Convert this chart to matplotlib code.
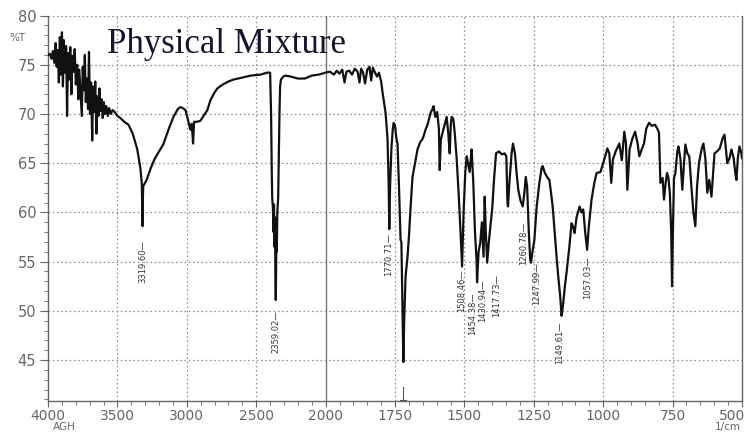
import numpy as np
import matplotlib
matplotlib.use('Agg')
import matplotlib.pyplot as plt
from matplotlib.ticker import FixedLocator

# FTIR spectrum of the physical mixture
wavenumber = [
    4000, 3985, 3975, 3965, 3955, 3945, 3938, 3930, 3922, 3915, 3908, 3900, 3893, 3886,
    3878, 3870, 3863, 3856, 3848, 3840, 3832, 3824, 3816, 3808, 3800, 3790, 3782, 3775,
    3765, 3757, 3750, 3742, 3735, 3728, 3720, 3712, 3705, 3698, 3690, 3682, 3675, 3668,
    3660, 3652, 3645, 3637, 3630, 3622, 3614, 3606, 3598, 3590, 3580, 3570, 3560, 3548,
    3535, 3520, 3500, 3480, 3450, 3420, 3390, 3357, 3335, 3325, 3321, 3319.6, 3317, 3314,
    3305, 3290, 3260, 3230, 3200, 3170, 3130, 3097, 3065, 3047, 3030, 3010, 2990, 2975,
    2965, 2955, 2948, 2930, 2903, 2880, 2852, 2830, 2800, 2780, 2740, 2700, 2664, 2600,
    2540, 2470, 2420, 2400, 2393, 2388, 2385, 2380, 2376, 2372, 2368, 2365, 2362, 2359,
    2357, 2355, 2352, 2348, 2342, 2337, 2332, 2328, 2322, 2305, 2290, 2250, 2200, 2150,
    2100, 2050, 2000, 1985, 1970, 1960, 1950, 1940, 1932, 1925, 1915, 1905, 1895, 1885,
    1878, 1872, 1865, 1858, 1850, 1842, 1836, 1830, 1822, 1815, 1808, 1800, 1795, 1784,
    1777, 1773, 1770.7, 1768, 1763, 1758, 1755, 1750, 1745, 1741, 1735, 1730, 1727, 1723,
    1720, 1717, 1712, 1705, 1700, 1694, 1687, 1678, 1669, 1660, 1650, 1640, 1632, 1622,
    1615, 1611, 1605, 1598, 1592, 1589, 1585, 1575, 1564, 1558, 1553, 1549, 1546, 1540,
    1535, 1528, 1521, 1514, 1508.5, 1503, 1497, 1492, 1486, 1481, 1477, 1474, 1468, 1462,
    1456, 1454.4, 1449, 1443, 1437, 1431, 1427, 1423, 1418, 1412, 1405, 1400, 1393, 1386,
    1376, 1365, 1355, 1349, 1345, 1343, 1338, 1330, 1325, 1318, 1312, 1306, 1298, 1290,
    1284, 1279, 1274, 1268, 1263, 1260, 1255, 1248, 1240, 1230, 1222, 1218, 1210, 1200,
    1194, 1188, 1182, 1175, 1168, 1162, 1155, 1150, 1145, 1138, 1132, 1122, 1114, 1108,
    1103, 1096, 1085, 1078, 1072, 1065, 1058, 1052, 1042, 1032, 1024, 1010, 1000, 985,
    978, 971, 965, 955, 942, 933, 924, 918, 913, 905, 895, 885, 876, 870,
    860, 853, 845, 835, 825, 813, 805, 799, 794, 786, 781, 775, 770, 765,
    760, 755, 752, 749, 745, 740, 733, 729, 722, 715, 710, 704, 697, 690,
    682, 675, 668, 662, 655, 645, 639, 632, 625, 618, 610, 604, 599, 590,
    580, 570, 563, 558, 553, 545, 538, 530, 524, 520, 515, 509, 502, 500,
]
transmittance = [
    76.0, 76.1, 75.6, 76.4, 75.2, 77.2, 74.8, 76.5, 73.2, 77.8, 74.0, 78.3, 72.8, 77.5,
    74.2, 76.9, 69.8, 76.2, 73.5, 76.8, 72.0, 75.9, 74.3, 76.6, 73.0, 75.0, 71.5, 74.5,
    72.0, 69.8, 74.8, 72.4, 76.0, 71.2, 73.6, 70.5, 76.3, 70.0, 73.2, 67.3, 72.8, 70.2,
    73.3, 68.0, 71.8, 69.8, 72.6, 70.3, 71.5, 69.6, 71.2, 70.0, 70.8, 69.8, 70.6, 70.0,
    70.4, 70.2, 69.8, 69.6, 69.2, 68.9, 68.0, 66.4, 64.5, 63.0, 60.5, 58.6, 61.5, 62.7,
    62.9, 63.3, 64.5, 65.5, 66.2, 66.9, 68.5, 69.7, 70.5, 70.7, 70.6, 70.4, 69.3, 68.4,
    69.0, 67.0, 69.2, 69.2, 69.3, 69.8, 70.4, 71.4, 72.2, 72.6, 73.0, 73.3, 73.5, 73.7,
    73.9, 74.0, 74.2, 74.2, 70.0, 64.0, 61.5, 60.5, 58.0, 60.8, 56.5, 59.5, 54.0, 51.1,
    55.0, 57.5, 56.0, 60.0, 61.5, 66.0, 70.5, 72.8, 73.5, 73.8, 73.9, 73.8, 73.6, 73.6,
    73.9, 74.0, 74.2, 74.3, 74.0, 74.4, 74.1, 74.5, 73.2, 74.3, 74.4, 74.0, 74.6, 74.3,
    73.2, 74.6, 74.2, 73.1, 74.5, 74.8, 73.4, 74.7, 74.2, 73.8, 74.2, 73.3, 72.2, 70.1,
    67.5, 63.0, 58.3, 62.5, 66.5, 68.5, 69.1, 68.8, 67.5, 67.0, 62.0, 57.2, 57.0, 50.0,
    44.8, 49.0, 53.5, 55.5, 57.5, 60.5, 63.6, 65.0, 66.4, 67.1, 67.5, 68.4, 69.0, 70.1,
    70.5, 70.8, 69.7, 70.2, 68.5, 64.3, 67.4, 68.5, 69.7, 68.0, 66.0, 69.0, 69.7, 69.5,
    68.1, 65.5, 62.0, 58.0, 54.5, 60.0, 64.0, 65.7, 64.8, 64.1, 65.5, 66.4, 63.0, 58.0,
    55.0, 52.9, 56.0, 56.9, 59.0, 55.5, 61.6, 58.0, 54.9, 57.0, 59.0, 60.3, 63.5, 66.0,
    66.2, 65.9, 66.0, 65.7, 61.0, 60.6, 63.0, 66.0, 67.0, 66.0, 64.0, 62.3, 61.2, 60.6,
    62.0, 63.6, 62.6, 58.0, 55.2, 54.9, 56.0, 57.2, 60.5, 63.0, 64.5, 64.7, 64.0, 63.5,
    63.3, 62.0, 60.6, 58.0, 55.5, 53.5, 51.5, 49.5, 50.5, 52.5, 53.9, 56.5, 58.9, 58.5,
    57.9, 59.5, 60.6, 60.0, 60.3, 58.0, 56.2, 58.5, 61.3, 63.0, 64.0, 64.1, 65.0, 66.5,
    66.0, 63.0, 65.4, 66.2, 67.0, 65.3, 68.2, 67.0, 62.3, 66.4, 67.5, 68.2, 67.0, 65.7,
    66.5, 67.0, 68.5, 69.1, 68.8, 68.9, 68.5, 68.1, 63.0, 63.5, 61.3, 63.0, 64.0, 63.5,
    62.0, 58.0, 52.5, 58.0, 63.5, 64.0, 66.2, 66.7, 65.5, 62.3, 64.5, 66.9, 66.0, 65.7,
    62.5, 60.0, 58.6, 62.6, 65.0, 66.5, 67.0, 65.5, 62.0, 63.3, 61.6, 64.0, 66.0, 66.2,
    66.5, 67.5, 67.9, 66.5, 65.0, 65.5, 66.4, 65.5, 64.0, 63.3, 65.5, 66.7, 66.0, 65.5,
]

# peak annotations
peak_labels = ['3319.60', '2359.02', '1770.71', '1508.46', '1454.38', '1430.94',
               '1417.73', '1260.78', '1247.99', '1149.61', '1057.03']
peak_label_x = [3321, 2361, 1773, 1510, 1470, 1435, 1385, 1287, 1240, 1158, 1057]
peak_label_top = [57.2, 50.0, 57.9, 54.2, 51.9, 53.2, 53.7, 59.0, 54.9, 48.9, 55.5]

x_major = [4000, 3500, 3000, 2500, 2000, 1750, 1500, 1250, 1000, 750, 500]
y_major = [45, 50, 55, 60, 65, 70, 75, 80]


# wavenumber axis is compressed by 2x above 2000 1/cm
def fwd(w):
    w = np.asarray(w, dtype=float)
    return np.where(w <= 2000, w, 2000 + (w - 2000) / 2)


def inv(x):
    x = np.asarray(x, dtype=float)
    return np.where(x <= 2000, x, 2000 + (x - 2000) * 2)


fig = plt.figure(figsize=(7.51, 4.32), dpi=100)
ax = fig.add_axes([0.064, 0.072, 0.924, 0.892])
ax.set_xscale('function', functions=(fwd, inv))
ax.set_xlim(4000, 500)
ax.set_ylim(40.85, 80)

grid_col = '#8a8a8a'
for xv in x_major[1:-1]:
    if xv == 2000:
        ax.axvline(xv, color='#777777', lw=1.0, zorder=1)
    else:
        ax.axvline(xv, color=grid_col, lw=0.9, ls=(0, (1.2, 2.2)), zorder=1)
for yv in y_major:
    ax.axhline(yv, color=grid_col, lw=0.9, ls=(0, (1.2, 2.2)), zorder=1)

ax.plot(wavenumber, transmittance, color='#111111', lw=1.6, zorder=3)

for lab, lx, ly in zip(peak_labels, peak_label_x, peak_label_top):
    ax.text(lx, ly, lab + '\u2014', rotation=90, ha='center', va='top',
            fontsize=6, color='#333333', zorder=4)

# small off-scale marker under the 1720 band
ax.plot([1722, 1722], [40.9, 42.3], color='#555555', lw=0.8)
ax.plot([1712, 1732], [40.95, 40.95], color='#555555', lw=0.8)

ax.set_xticks(x_major)
ax.set_xticklabels([str(v) for v in x_major[:-1]] + [''])
# last label sits a bit left so it is not clipped by the image edge
ax.annotate(str(x_major[-1]), xy=(x_major[-1], 40.85), xytext=(-7, -5.5),
            textcoords='offset points', ha='center', va='top',
            fontsize=10, color='#666666', annotation_clip=False)
minor_x = [v for v in list(range(550, 2000, 50)) + list(range(2100, 4000, 100))]
ax.xaxis.set_minor_locator(FixedLocator(minor_x))
ax.set_yticks(y_major)
ax.yaxis.set_minor_locator(FixedLocator(np.arange(41, 80, 1)))

for s in ['left', 'bottom', 'right']:
    ax.spines[s].set_color('#666666')
    ax.spines[s].set_linewidth(1.0)
ax.spines['top'].set_visible(False)
ax.tick_params(axis='y', which='major', direction='out', length=5.5, width=0.8,
               color='#666666', labelcolor='#666666', labelsize=10.5, pad=3)
ax.tick_params(axis='x', which='major', direction='out', length=4, width=0.8,
               color='#666666', labelcolor='#666666', labelsize=10, pad=1.5)
ax.tick_params(axis='both', which='minor', direction='out', length=3, width=0.7,
               color='#777777')

fig.text(0.013, 0.905, '%T', fontsize=7.5, color='#666666')
fig.text(0.086, 0.0, 'AGH', fontsize=7.5, color='#666666', ha='center', va='bottom')
fig.text(0.986, 0.0, '1/cm', fontsize=7.5, color='#666666', ha='right', va='bottom')

fig.text(0.1425, 0.877, 'Physical Mixture', fontsize=25, color='#15152e',
         family='Liberation Serif')

fig.savefig('out.png', dpi=100)
